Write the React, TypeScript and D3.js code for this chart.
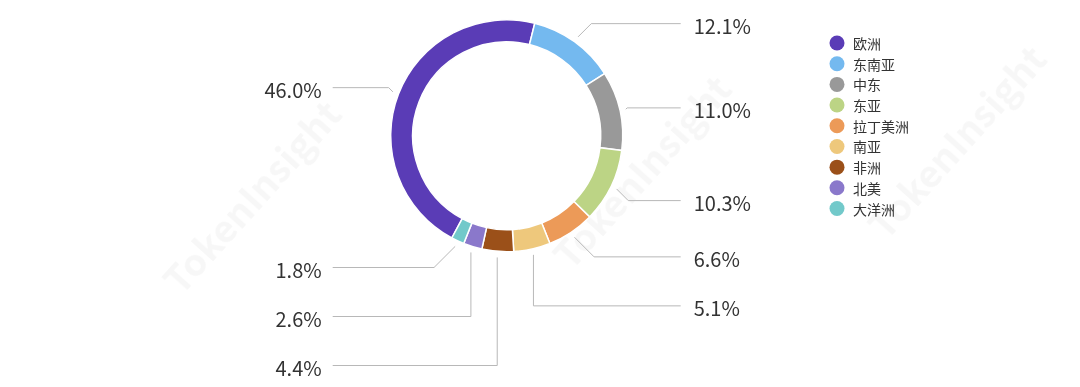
import React, { useEffect, useRef } from "react";
import * as d3 from "d3";

// chart data
const regions = ["欧洲", "东南亚", "中东", "东亚", "拉丁美洲", "南亚", "非洲", "北美", "大洋洲"];
const shares = [46.0, 12.1, 11.0, 10.3, 6.6, 5.1, 4.4, 2.6, 1.8];
const colors = ["#5a3cb6", "#74b9ef", "#999999", "#bcd485", "#ec9a58", "#eec87c", "#9b5019", "#8a78cb", "#72c9ca"];

const WIDTH = 1080;
const HEIGHT = 387;
const FONT = "'Noto Sans CJK SC', 'Noto Sans', sans-serif";

export default function App() {
    const ref = useRef<SVGSVGElement>(null);

    useEffect(() => {
        if (!ref.current) return;
        const svg = d3.select(ref.current);
        svg.selectAll("*").remove();

        const cx = 506.7;
        const cy = 135.8;
        const outerR = 116;
        const innerR = 94;

        // faint watermark
        const wm = svg.append("g").attr("fill", "#000").attr("opacity", 0.035)
            .attr("font-family", FONT).attr("font-weight", "bold").attr("font-size", 38);
        [[250, 195], [640, 170], [955, 140]].forEach(([x, y]) => {
            wm.append("text")
                .attr("transform", `translate(${x},${y}) rotate(-48)`)
                .attr("text-anchor", "middle")
                .attr("dominant-baseline", "central")
                .text("TokenInsight");
        });

        // Europe's slice ends slightly right of the top
        const total = d3.sum(shares);
        const startAngle = ((14 - (shares[0] / total) * 360) * Math.PI) / 180;
        const pie = d3.pie<number>().sort(null).value((d) => d)
            .startAngle(startAngle).endAngle(startAngle + 2 * Math.PI);
        const arcs = pie(shares);
        const arc = d3.arc<d3.PieArcDatum<number>>().innerRadius(innerR).outerRadius(outerR);

        const g = svg.append("g").attr("transform", `translate(${cx},${cy})`);
        g.selectAll("path")
            .data(arcs)
            .join("path")
            .attr("d", arc)
            .attr("fill", (_, i) => colors[i])
            .attr("stroke", "#fff")
            .attr("stroke-width", 1.5);

        // label layout
        type Lab = { i: number; mid: number; side: number; y: number; sx: number; sy: number };
        const labs: Lab[] = arcs.map((a, i) => {
            const mid = (a.startAngle + a.endAngle) / 2;
            const side = Math.sin(mid) >= 0 ? 1 : -1;
            const rs = outerR + 6;
            const rl = outerR + 26;
            return {
                i,
                mid,
                side,
                y: cy + 3 - Math.cos(mid) * rl,
                sx: cx + Math.sin(mid) * rs,
                sy: cy - Math.cos(mid) * rs,
            };
        });
        const gap = 49;
        [1, -1].forEach((side) => {
            const list = labs.filter((l) => l.side === side).sort((a, b) => a.y - b.y);
            for (let k = 1; k < list.length; k++) {
                if (list[k].y - list[k - 1].y < gap) list[k].y = list[k - 1].y + gap;
            }
        });

        const edgeR = cx + 174;
        const edgeL = cx - 174;
        const lines = svg.append("g").attr("fill", "none").attr("stroke", "#b8b8b8").attr("stroke-width", 1);
        const texts = svg.append("g").attr("font-family", FONT).attr("font-size", 20).attr("fill", "#333");
        labs.forEach((l) => {
            const dy = l.y - l.sy;
            const off = Math.abs(dy) <= 22 ? Math.abs(dy) : 0;
            const bx = l.sx + l.side * off;
            const ex = l.side > 0 ? edgeR : edgeL;
            lines.append("path").attr("d", d3.line()([[l.sx, l.sy], [bx, l.y], [ex, l.y]]));
            texts.append("text")
                .attr("x", l.side > 0 ? ex + 13 : ex - 11)
                .attr("y", l.y + 2)
                .attr("text-anchor", l.side > 0 ? "start" : "end")
                .attr("dominant-baseline", "central")
                .text(`${shares[l.i].toFixed(1)}%`);
        });

        // legend
        const ly = d3.scalePoint<string>().domain(regions).range([43, 208.5]);
        const legend = svg.append("g").attr("font-family", FONT).attr("font-size", 14).attr("fill", "#333");
        regions.forEach((r, i) => {
            const y = ly(r)!;
            legend.append("circle").attr("cx", 837).attr("cy", y).attr("r", 7.5).attr("fill", colors[i]);
            legend.append("text").attr("x", 853).attr("y", y).attr("dominant-baseline", "central").text(r);
        });
    }, []);

    return (
        <svg
            ref={ref}
            width={WIDTH}
            height={HEIGHT}
            viewBox={`0 0 ${WIDTH} ${HEIGHT}`}
            style={{ position: "absolute", left: 0, top: 0, background: "#fff" }}
        />
    );
}
